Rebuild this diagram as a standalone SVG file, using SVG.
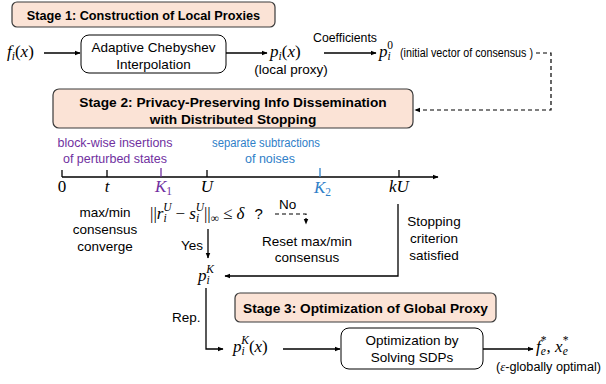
<svg xmlns="http://www.w3.org/2000/svg" width="606" height="384" viewBox="0 0 606 384">
<defs>
<marker id="ah" viewBox="0 0 10 10" refX="9" refY="5" markerWidth="6" markerHeight="6" orient="auto-start-reverse" markerUnits="userSpaceOnUse"><path d="M0,1 L10,5 L0,9 z" fill="#000"/></marker>
<style>
.stage{fill:#fbe3d6;stroke:#3a3a3a;stroke-width:1.2}
.box{fill:#fff;stroke:#000;stroke-width:1}
.st{font-family:"Liberation Sans",Arial,sans-serif;font-weight:bold;font-size:13.7px;fill:#000;text-anchor:middle}
.t{font-family:"Liberation Sans",Arial,sans-serif;font-size:13.5px;fill:#000}
.n{font-size:12.5px}
.c{text-anchor:middle}
.m{font-family:"Liberation Serif","Times New Roman",serif;font-style:italic;font-size:17px;fill:#000}
.r{font-style:normal}
.s{font-size:11.5px}
.ln{stroke:#000;stroke-width:1.3;fill:none}
.dash{stroke:#000;stroke-width:1.2;fill:none;stroke-dasharray:4,3}
.pur{fill:#7030a0}
.blu{fill:#2f80c8}
</style>
</defs>

<g id="stage1">
<rect class="stage" x="12" y="2" width="263" height="25" rx="5"/>
<text class="st" x="143.5" y="19.5" style="font-size:12.7px">Stage 1: Construction of Local Proxies</text>
</g>

<g id="fi"><text class="m" x="7" y="57">f<tspan class="s" dy="3">i</tspan><tspan class="r" dy="-3">(</tspan>x<tspan class="r">)</tspan></text></g>

<g id="cheb">
<rect class="box" x="81" y="35" width="145" height="38" rx="8"/>
<text class="t c" x="153.5" y="52">Adaptive Chebyshev</text>
<text class="t c" x="153.5" y="69">Interpolation</text>
</g>

<g id="pix">
<text class="m" x="270" y="57">p<tspan class="s" dy="3">i</tspan><tspan class="r" dy="-3">(</tspan>x<tspan class="r">)</tspan></text>
<text class="t c" x="291" y="74">(local proxy)</text>
</g>

<g id="pi0">
<text class="t n c" x="345" y="42" textLength="64" lengthAdjust="spacingAndGlyphs">Coefficients</text>
<text class="m" x="379" y="57">p<tspan class="s" dy="3">i</tspan><tspan class="s r" dx="-3.5" dy="-11">0</tspan></text>
<text class="t n" x="400" y="57" textLength="133" lengthAdjust="spacingAndGlyphs">(initial vector of consensus )</text>
</g>

<g id="stage2">
<rect class="stage" x="53" y="89" width="360" height="39" rx="6"/>
<text class="st" x="233" y="107">Stage 2: Privacy-Preserving Info Dissemination</text>
<text class="st" x="233" y="124">with Distributed Stopping</text>
</g>

<g id="timeline">
<text class="t n c pur" x="115" y="147" textLength="115" lengthAdjust="spacingAndGlyphs">block-wise insertions</text>
<text class="t n c pur" x="115" y="163" textLength="104" lengthAdjust="spacingAndGlyphs">of perturbed states</text>
<text class="t n c blu" x="266" y="147" textLength="108" lengthAdjust="spacingAndGlyphs">separate subtractions</text>
<text class="t n c blu" x="270" y="163">of noises</text>
<line class="ln" x1="62" y1="177" x2="438" y2="177" marker-end="url(#ah)"/>
<line class="ln" x1="62" y1="170" x2="62" y2="177"/>
<line class="ln" x1="107" y1="170" x2="107" y2="177"/>
<line x1="161" y1="168" x2="161" y2="177" stroke="#7030a0" stroke-width="1.3"/>
<line class="ln" x1="207" y1="170" x2="207" y2="177"/>
<line x1="320" y1="168" x2="320" y2="177" stroke="#2f80c8" stroke-width="1.3"/>
<line class="ln" x1="399" y1="170" x2="399" y2="177"/>
<text class="m r" x="62" y="192" text-anchor="middle">0</text>
<text class="m" x="107" y="192" text-anchor="middle">t</text>
<text class="m pur" x="155" y="192">K<tspan class="s r" dy="3">1</tspan></text>
<text class="m" x="207" y="192" text-anchor="middle">U</text>
<text class="m blu" x="314" y="193">K<tspan class="s r" dy="3">2</tspan></text>
<text class="m" x="399" y="192" text-anchor="middle">kU</text>
</g>

<g id="converge">
<text class="t c" x="105" y="217">max/min</text>
<text class="t c" x="105" y="234">consensus</text>
<text class="t c" x="105" y="251">converge</text>
</g>

<g id="cond">
<text class="m" x="150" y="219"><tspan class="r">||</tspan>r<tspan class="s" dy="3">i</tspan><tspan class="s" dx="-3.5" dy="-11">U</tspan><tspan class="r" dx="4" dy="8">−</tspan> s<tspan class="s" dy="3">i</tspan><tspan class="s" dx="-3.5" dy="-11">U</tspan><tspan class="r" dy="8">||</tspan><tspan class="s r" dy="3">∞</tspan><tspan class="r" dx="4" dy="-3">≤</tspan> δ<tspan class="r" font-family="Liberation Sans" font-size="15" dx="10">?</tspan></text>
<text class="t" x="279" y="209">No</text>
<text class="t" x="181" y="250">Yes</text>
</g>

<g id="reset">
<text class="t c" x="307" y="246">Reset max/min</text>
<text class="t c" x="307" y="262">consensus</text>
</g>

<g id="stopping">
<text class="t c" x="434" y="226">Stopping</text>
<text class="t c" x="434" y="243">criterion</text>
<text class="t c" x="434" y="260">satisfied</text>
</g>

<g id="piK"><text class="m" x="198" y="281">p<tspan class="s" dy="3">i</tspan><tspan class="s" dx="-3.5" dy="-11">K</tspan></text></g>

<g id="stage3">
<rect class="stage" x="235" y="293" width="261" height="29" rx="5"/>
<text class="st" x="365.5" y="313">Stage 3: Optimization of Global Proxy</text>
</g>

<g id="piKx"><text class="m" x="233" y="352">p<tspan class="s" dy="3">i</tspan><tspan class="s" dx="-3.5" dy="-11">K</tspan><tspan class="r" dy="8">(</tspan>x<tspan class="r">)</tspan></text>
<text class="t" x="172" y="322">Rep.</text>
</g>

<g id="sdp">
<rect class="box" x="341" y="328" width="142" height="41" rx="8"/>
<text class="t c" x="412" y="345">Optimization by</text>
<text class="t c" x="412" y="362">Solving SDPs</text>
</g>

<g id="fe">
<text class="m" x="536" y="352">f<tspan class="s" dy="3">e</tspan><tspan class="s r" dx="-5" dy="-11">*</tspan><tspan class="r" dy="8">,</tspan> x<tspan class="s" dy="3">e</tspan><tspan class="s r" dx="-5" dy="-11">*</tspan></text>
<text class="t n" x="496" y="371" textLength="105" lengthAdjust="spacingAndGlyphs">(<tspan font-family="Liberation Serif" font-style="italic">ε</tspan>-globally optimal)</text>
</g>

<g id="connectors">
<line class="ln" x1="44" y1="53" x2="80" y2="53" marker-end="url(#ah)"/>
<line class="ln" x1="226" y1="53" x2="267" y2="53" marker-end="url(#ah)"/>
<line class="ln" x1="324" y1="53" x2="376" y2="53" marker-end="url(#ah)"/>
<path class="dash" d="M536,53 H551 V110 H415" marker-end="url(#ah)"/>
<path class="dash" d="M275,214 H306 V224" marker-end="url(#ah)"/>
<line class="ln" x1="208" y1="229" x2="208" y2="258" marker-end="url(#ah)"/>
<path class="ln" d="M398,204 V276 H225" marker-end="url(#ah)"/>
<path class="ln" d="M206,288 V349 H223" marker-end="url(#ah)"/>
<line class="ln" x1="283" y1="349" x2="340" y2="349" marker-end="url(#ah)"/>
<line class="ln" x1="483" y1="349" x2="533" y2="349" marker-end="url(#ah)"/>
</g>
</svg>
